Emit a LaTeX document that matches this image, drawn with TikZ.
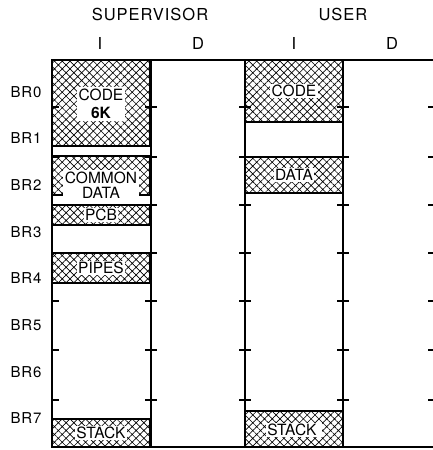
\documentclass[tikz,border=0pt]{standalone}
\usepackage{fontspec}
\setmainfont{TeX Gyre Heros}
\newfontfamily\spacedfont[LetterSpace=6]{TeX Gyre Heros}
\usetikzlibrary{patterns.meta}
\tikzset{
  hatched/.style={draw, pattern={Hatch[angle=45,distance=5.5pt,line width=0.65pt]}},
  blocklabel/.style={fill=white, inner sep=1.5pt, align=center,
    font=\fontsize{15.5}{14.5}\selectfont},
  headlabel/.style={font=\spacedfont\fontsize{16.5}{16.5}\selectfont},
  brlabel/.style={font=\spacedfont\fontsize{15}{15}\selectfont}
}
\begin{document}
\begin{tikzpicture}[x=1pt,y=-1pt,line width=1.1pt]
  \useasboundingbox (0,0) rectangle (433,450);
  % headings
  \node[headlabel] (sup) at (150,14) {SUPERVISOR};
  \node[headlabel] (usr) at (343,14) {USER};
  \foreach \name/\x/\lab in {si/100/I, sd/198/D, ui/294/I, ud/392/D}
    \node[headlabel] (\name) at (\x,43) {\lab};
  % base registers
  \foreach \i/\y in {0/92,1/138,2/185,3/232,4/278,5/325,6/372,7/418}
    \node[brlabel] (br\i) at (26,\y) {BR\i};
  % occupied blocks
  \foreach \name/\xa/\ya/\yb/\ly/\lab in {
      scode/52/60/146/104/{CODE\\[4pt]\textbf{6K}},
      sdata/52/156/195/185/{COMMON\\DATA},
      spcb/52/205/225/215/{PCB},
      spipes/52/253/283/268/{PIPES},
      sstack/52/419/447/433/{STACK},
      ucode/245/60/122/91/{CODE},
      udata/245/157/193/175/{DATA},
      ustack/245/411/447/430/{STACK}
    } {
    \draw[hatched] (\xa,\ya) rectangle ({\xa+98},\yb);
    \node[blocklabel] (\name) at ({\xa+49},\ly) {\lab};
  }
  % frame
  \draw (52,60) -- (433,60);
  \draw (52,447) -- (433,447);
  \foreach \x in {52,151,245,343}
    \draw (\x,60) -- (\x,447);
  \foreach \y in {107,157,205,253,301,350,400} {
    \draw (52,\y) -- (59,\y);
    \foreach \x in {151,245,343}
      \draw (\x-6,\y) -- (\x+6,\y);
    \draw (428,\y) -- (433,\y);
  }
\end{tikzpicture}
\end{document}
